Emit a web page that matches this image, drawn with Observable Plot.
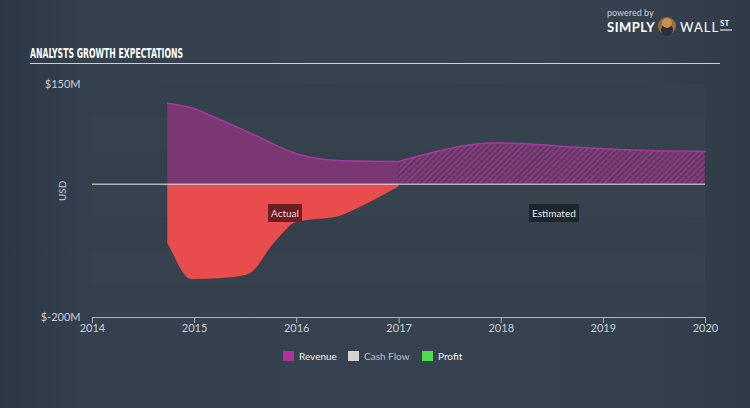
<!DOCTYPE html>
<html>
<head>
<meta charset="utf-8">
<script src="https://cdn.jsdelivr.net/npm/d3@7"></script>
<script src="https://cdn.jsdelivr.net/npm/@observablehq/plot@0.6"></script>
<style>
  html, body { margin: 0; padding: 0; }
  body { width: 750px; height: 408px; overflow: hidden;
    background: linear-gradient(to right, #2d3845 0%, #34404e 12%, #36424f 50%, #35414e 85%, #303b48 100%);
    font-family: Lato, "Open Sans", sans-serif; }
  #wrap { position: relative; width: 750px; height: 408px; }
  #chart { position: absolute; left: 0; top: 0; }
  .abs { position: absolute; }
  .tag { position: absolute; font-size: 10px; padding: 3px 3px; line-height: 12px; }
  .leg { position: absolute; top: 350px; font-size: 10px; color: #e6e8ea; line-height: 12px; }
  .leg span.sw { display: inline-block; width: 11px; height: 10px; vertical-align: -1px; margin-right: 5px; }
</style>
</head>
<body>
<div id="wrap">
  <div id="chart"></div>
</div>
<script>
// ---- data ----
const revenueActualDates = ["2014-09-27","2014-12-28","2015-03-23","2015-07-20","2016-01-01","2016-05-26","2016-12-31"];
const revenueActualValues = [122, 114, 99, 77, 46, 36, 34.5];
const revenueEstDates = ["2016-12-31","2017-05-31","2017-11-25","2018-03-23","2018-09-16","2019-03-15","2019-12-31"];
const revenueEstValues = [34.5, 51, 62, 61, 56, 52, 49.5];
const profitDates = ["2014-09-27","2014-10-15","2014-11-06","2014-12-01","2014-12-24","2015-04-20","2015-07-09","2015-08-08","2015-09-27","2015-11-22","2015-12-20","2016-02-17","2016-05-26","2016-08-03","2016-12-31"];
const profitValues = [-89, -103, -122, -138, -143, -141, -136, -127, -97, -70, -59, -54, -49, -37, -4];
const yTicks = [150, -200];
const legendLabels = ["Revenue", "Cash Flow", "Profit"];
const title = "ANALYSTS GROWTH EXPECTATIONS";
const yLabel = "USD";
const tagLabels = ["Actual", "Estimated"];

const toRows = (ds, vs) => ds.map((d, i) => ({date: new Date(d), value: vs[i]}));
const revA = toRows(revenueActualDates, revenueActualValues);
const revE = toRows(revenueEstDates, revenueEstValues);
const profit = toRows(profitDates, profitValues);

const x0 = new Date("2014-01-01"), x1 = new Date("2020-01-01");
const bands = d3.range(-200, 150, 50).map((v, i) => ({y1: v, y2: v + 50, i}));

const svg = Plot.plot({
  width: 750, height: 408,
  marginTop: 84, marginBottom: 91, marginLeft: 92, marginRight: 45,
  style: {background: "transparent", color: "#c8d0d8", fontFamily: "Lato, 'Open Sans', sans-serif", fontSize: "11px"},
  x: {type: "utc", domain: [x0, x1]},
  y: {domain: [-200, 150]},
  marks: [
    Plot.rect(bands, {x1: () => x0, x2: () => x1, y1: "y1", y2: "y2",
      fill: d => d.i % 2 ? "#36434f" : "#34414d"}),
    Plot.areaY(revA, {x: "date", y: "value", fill: "#7b3774", curve: "monotone-x"}),
    Plot.areaY(revE, {x: "date", y: "value", fill: "url(#hatch)", curve: "monotone-x"}),
    Plot.lineY(revA, {x: "date", y: "value", stroke: "#a33b9a", strokeWidth: 1.5, curve: "monotone-x"}),
    Plot.lineY(revE, {x: "date", y: "value", stroke: "#a33b9a", strokeWidth: 1.5, curve: "monotone-x"}),
    Plot.areaY(profit, {x: "date", y: "value", fill: "#e84c4c", curve: "monotone-x"}),
    Plot.ruleY([0], {stroke: "#d4d9de", strokeOpacity: 0.75, strokeWidth: 1.5}),
    Plot.ruleY([-200], {stroke: "#aab4be", strokeWidth: 1}),
    Plot.axisX({ticks: d3.utcYear.every(1), tickFormat: d3.utcFormat("%Y"), tickSize: 6, tickPadding: 1,
      stroke: "#aab4be", label: null, fontSize: 11}),
    Plot.axisY({ticks: yTicks, tickSize: 0, tickPadding: 12, tickFormat: d => `$${d}M`, label: null, fontSize: 11}),
    Plot.text([yLabel], {text: d => d, frameAnchor: "left", dx: -30, rotate: -90, fill: "#c8d0d8", fontSize: 10})
  ]
});

// hatch pattern for estimated region
const defs = d3.select(svg).insert("defs", ":first-child");
const pat = defs.append("pattern").attr("id", "hatch").attr("patternUnits", "userSpaceOnUse")
  .attr("width", 4).attr("height", 4).attr("patternTransform", "rotate(45)");
pat.append("rect").attr("width", 4).attr("height", 4).attr("fill", "#6a3367");
pat.append("rect").attr("width", 1.3).attr("height", 4).attr("fill", "#8a4586");

document.getElementById("chart").appendChild(svg);

const wrap = document.getElementById("wrap");
// Title
wrap.insertAdjacentHTML("beforeend", `
  <svg class="abs" style="left:0;top:0" width="750" height="70">
    <text x="30" y="58" textLength="153" lengthAdjust="spacingAndGlyphs"
      font-family="'Liberation Sans Narrow', 'DejaVu Sans Condensed', sans-serif" font-weight="bold"
      font-size="14.5" fill="#ffffff">${title}</text>
    <line x1="30" x2="720" y1="63.5" y2="63.5" stroke="#c9d1da" stroke-width="1.2"/>
    <text x="607" y="16" font-size="9" fill="#c8d0d8" font-family="Lato, sans-serif">powered by</text>
    <text x="607" y="32" font-size="13" font-weight="bold" fill="#ffffff" font-family="Lato, sans-serif" letter-spacing="0.5">SIMPLY</text>
    <circle cx="667" cy="26" r="9" fill="#9a6a3a"/>
    <ellipse cx="667" cy="30" rx="6" ry="6" fill="#2a2f38"/>
    <circle cx="667" cy="23" r="5" fill="#c89050"/>
    <text x="680" y="32" font-size="13" fill="#ffffff" font-family="Lato, sans-serif" letter-spacing="1">WALL</text>
    <text x="720" y="26" font-size="8" font-weight="bold" fill="#ffffff" font-family="Lato, sans-serif">ST</text>
    <line x1="720" x2="732" y1="30" y2="30" stroke="#fff" stroke-width="1"/>
  </svg>`);

// Actual / Estimated tags
wrap.insertAdjacentHTML("beforeend", `
  <div class="tag" style="left:268px;top:204px;background:#6c1f22;color:#f2d6d6">${tagLabels[0]}</div>
  <div class="tag" style="left:529px;top:204px;background:#1e252d;color:#e8eaec">${tagLabels[1]}</div>`);

// Legend
const legColors = ["#b0339c", "#d3d3d3", "#4ddc4d"];
const legX = [283, 348, 422];
const legText = ["#eef0f2", "#b8c0c8", "#eef0f2"];
legendLabels.forEach((l, i) => {
  wrap.insertAdjacentHTML("beforeend",
    `<div class="leg" style="left:${legX[i]}px;color:${legText[i]}"><span class="sw" style="background:${legColors[i]}"></span>${l}</div>`);
});
</script>
</body>
</html>
